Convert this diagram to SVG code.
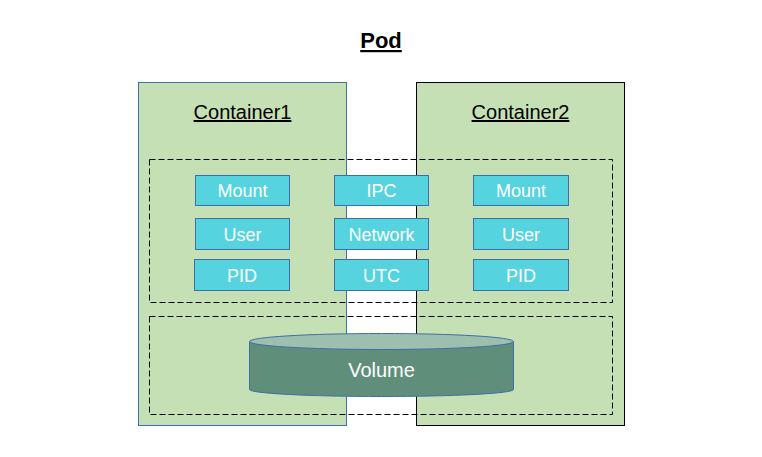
<svg xmlns="http://www.w3.org/2000/svg" width="762" height="457" viewBox="0 0 762 457">
<style>
.cont{fill:#c5e0b4}
.ns rect{fill:#55d3de;stroke:#3f6fa8;stroke-width:1}
.ns text{fill:#ffffff;font-family:"Liberation Sans",Arial,sans-serif;font-size:18px;text-anchor:middle}
.lbl{font-family:"Liberation Sans",Arial,sans-serif;font-size:20px;text-anchor:middle;fill:#000;text-decoration:underline}
.dash{fill:none;stroke:#000;stroke-width:1;stroke-dasharray:6 3}
</style>
<rect width="762" height="457" fill="#ffffff"/>
<text x="381" y="48" font-family="'Liberation Sans',Arial,sans-serif" font-size="22" font-weight="bold" text-anchor="middle" text-decoration="underline">Pod</text>
<g id="container1">
<rect class="cont" x="138.5" y="82.5" width="208" height="343" stroke="#3f6fa8" stroke-width="1"/>
<text class="lbl" x="242.5" y="119">Container1</text>
</g>
<g id="container2">
<rect class="cont" x="416.5" y="82.5" width="208" height="343" stroke="#000" stroke-width="1"/>
<text class="lbl" x="520.5" y="119">Container2</text>
</g>
<g id="namespaces-group"><rect class="dash" x="149.5" y="159.5" width="463" height="143"/></g>
<g id="volume-group"><rect class="dash" x="149.5" y="316.5" width="463" height="98"/></g>
<g id="mount1" class="ns"><rect x="195.5" y="175.5" width="94" height="30"/><text x="242.5" y="197">Mount</text></g>
<g id="user1" class="ns"><rect x="195.5" y="218.5" width="94" height="31"/><text x="242.5" y="240.5">User</text></g>
<g id="pid1" class="ns"><rect x="194.5" y="259.5" width="95" height="31"/><text x="242" y="281.5">PID</text></g>
<g id="ipc" class="ns"><rect x="334.5" y="175.5" width="94" height="30"/><text x="381.5" y="197">IPC</text></g>
<g id="network" class="ns"><rect x="334.5" y="218.5" width="94" height="31"/><text x="381.5" y="240.5">Network</text></g>
<g id="utc" class="ns"><rect x="334.5" y="259.5" width="94" height="31"/><text x="381.5" y="281.5">UTC</text></g>
<g id="mount2" class="ns"><rect x="473.5" y="175.5" width="95" height="30"/><text x="521" y="197">Mount</text></g>
<g id="user2" class="ns"><rect x="473.5" y="218.5" width="95" height="31"/><text x="521" y="240.5">User</text></g>
<g id="pid2" class="ns"><rect x="473.5" y="259.5" width="95" height="31"/><text x="521" y="281.5">PID</text></g>
<g id="volume">
<path d="M249.5 341.5 L249.5 389.5 A132 7 0 0 0 513.5 389.5 L513.5 341.5 Z" fill="#5f8f7a" stroke="#3f6fa8" stroke-width="1"/>
<ellipse cx="381.5" cy="341.5" rx="132" ry="8" fill="#9dbfae" stroke="#3f6fa8" stroke-width="1"/>
<text x="381.5" y="376.5" font-family="'Liberation Sans',Arial,sans-serif" font-size="20" fill="#ffffff" text-anchor="middle">Volume</text>
</g>
<g id="connectors"></g>
</svg>
